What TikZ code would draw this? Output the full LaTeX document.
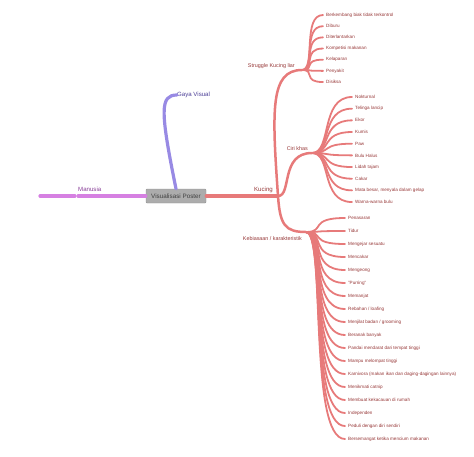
\documentclass[tikz,border=0pt]{standalone}
\usepackage{fontspec}
\setmainfont{Liberation Sans}
\usepackage{tikz}

\definecolor{kucingline}{RGB}{231,122,122}
\definecolor{kucingtext}{RGB}{150,55,55}
\definecolor{gayaline}{RGB}{152,138,228}
\definecolor{gayatext}{RGB}{75,62,150}
\definecolor{manusialine}{RGB}{214,128,226}
\definecolor{manusiatext}{RGB}{135,60,150}
\definecolor{rootfill}{RGB}{172,172,172}

\begin{document}
\begin{tikzpicture}[x=1pt,y=-1pt,line cap=round,line join=round
  ,rootbox/.style={fill=rootfill,draw=rootfill!85!black,line width=0.4pt,
    minimum width=60pt,minimum height=14pt,inner sep=1pt,rounded corners=1pt,
    text={black!75},font=\fontsize{6.3}{7}\selectfont}
  ,toplabel/.style={inner sep=0pt,font=\fontsize{6.1}{7}\selectfont}
  ,midlabel/.style={inner sep=0pt,text=kucingtext,font=\fontsize{5.4}{6}\selectfont}
  ,leaf/.style={anchor=west,inner xsep=3pt,inner ysep=0pt,text=kucingtext,
    font=\fontsize{4.6}{5}\selectfont}
  ,mainbranch/.style={line width=3.2pt}
  ,subbranch/.style={line width=2.5pt,draw=kucingline}
  ,leafbranch/.style={line width=1.8pt,draw=kucingline}]
  \useasboundingbox (0,0) rectangle (474,456);

  % centre
  \node[rootbox] (root) at (176,196) {Visualisasi Poster};

  % left: Manusia
  \node[toplabel,text=manusiatext,anchor=base west] (manusia) at (78,191.5) {Manusia};
  \coordinate (manusiaend) at (76,196);
  \coordinate (manusiatip) at (40,196);
  \draw[mainbranch,draw=manusialine] (root.west) -- ([xshift=2pt]manusiaend);
  \draw[mainbranch,draw=manusialine] ([xshift=-1pt]manusiaend) -- (manusiatip);

  % up: Gaya Visual
  \node[toplabel,text=gayatext,anchor=west] (gaya) at (177,95) {Gaya Visual};
  \draw[mainbranch,draw=gayaline] (root.north) .. controls (160,110) and (160,95) .. (gaya.west);

  % right: Kucing
  \coordinate (K) at (278,196);
  \node[toplabel,text=kucingtext,anchor=base east] (kucing) at (273,191) {Kucing};
  \draw[mainbranch,draw=kucingline] (root.east) -- (K);

  \coordinate (S) at (302,70);
  \coordinate (C) at (312,153);
  \coordinate (B) at (306,232);
  \node[midlabel,anchor=base east] (struggle) at (295,67.5) {Struggle Kucing liar};
  \node[midlabel,anchor=base east] (cirikhas) at (308,150) {Ciri khas};
  \node[midlabel,anchor=base east] (kebiasaan) at (302,240) {Kebiasaan / karakteristik};
  \draw[subbranch] (K) .. controls (272,110) and (270,70) .. (S);
  \draw[subbranch] (K) .. controls (292,196) and (280,153) .. (C);
  \draw[subbranch] (K) .. controls (280,225) and (285,232) .. (B);

  % Struggle Kucing liar
  \foreach \t [count=\i] in {Berkembang biak tidak terkontrol,Diburu,Diterlantarkan,
    Kompetisi makanan,Kelaparan,Penyakit,Disiksa}{
    \pgfmathsetmacro\yy{15+(\i-1)*11.17}
    \node[leaf] (s\i) at (323,\yy) {\t};
    \draw[leafbranch] (S) .. controls (316,70) and (302,\yy) .. (s\i.west);
  }

  % Ciri khas
  \foreach \t [count=\i] in {Nokturnal,Telinga lancip,Ekor,Kumis,Paw,Bulu Halus,
    Lidah tajam,Cakar,{Mata besar, menyala dalam gelap},Warna-warna bulu}{
    \pgfmathsetmacro\yy{97+(\i-1)*11.67}
    \node[leaf] (c\i) at (352,\yy) {\t};
    \draw[leafbranch] (C) .. controls (332,153) and (320,\yy) .. (c\i.west);
  }

  % Kebiasaan / karakteristik
  \foreach \t [count=\i] in {Penasaran,Tidur,Mengejar sesuatu,Mencakar,Mengeong,
    "Purring",Memanjat,Rebahan / loafing,Menjilat badan / grooming,Beranak banyak,
    Pandai mendarat dari tempat tinggi,Mampu melompat tinggi,
    Karnivora (makan ikan dan daging-dagingan lainnya),Menikmati catnip,
    Membuat kekacauan di rumah,Independen,Peduli dengan diri sendiri,
    Bersemangat ketika mencium makanan}{
    \pgfmathsetmacro\yy{218+(\i-1)*13}
    \node[leaf] (b\i) at (345,\yy) {\t};
    \draw[leafbranch] (B) .. controls (326,232) and (308,\yy) .. (b\i.west);
  }
\end{tikzpicture}
\end{document}
